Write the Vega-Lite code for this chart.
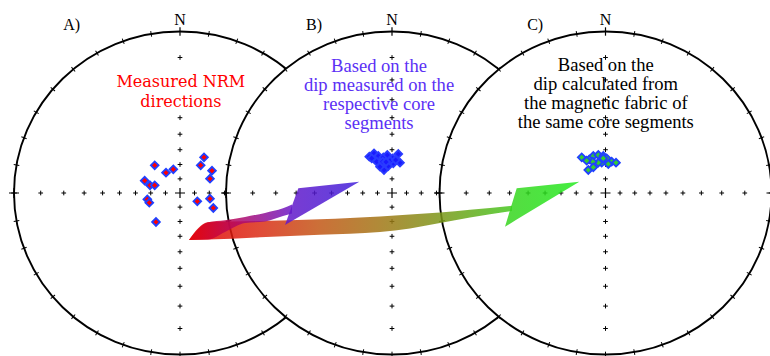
{
"$schema": "https://vega.github.io/schema/vega-lite/v6.json",
"width": 770, "height": 356, "autosize": "none", "padding": 0, "background": "white",
"config": {"view": {"stroke": null}},
"datasets": {
 "origin": [{"x": 0, "y": 0}],
 "rim": [
  {"az":0,"x":0,"y":1},{"az":10,"x":0.1736,"y":0.9848},{"az":20,"x":0.342,"y":0.9397},{"az":30,"x":0.5,"y":0.866},
  {"az":40,"x":0.6428,"y":0.766},{"az":50,"x":0.766,"y":0.6428},{"az":60,"x":0.866,"y":0.5},{"az":70,"x":0.9397,"y":0.342},
  {"az":80,"x":0.9848,"y":0.1736},{"az":90,"x":1,"y":0},{"az":100,"x":0.9848,"y":-0.1736},{"az":110,"x":0.9397,"y":-0.342},
  {"az":120,"x":0.866,"y":-0.5},{"az":130,"x":0.766,"y":-0.6428},{"az":140,"x":0.6428,"y":-0.766},{"az":150,"x":0.5,"y":-0.866},
  {"az":160,"x":0.342,"y":-0.9397},{"az":170,"x":0.1736,"y":-0.9848},{"az":180,"x":0,"y":-1},{"az":190,"x":-0.1736,"y":-0.9848},
  {"az":200,"x":-0.342,"y":-0.9397},{"az":210,"x":-0.5,"y":-0.866},{"az":220,"x":-0.6428,"y":-0.766},{"az":230,"x":-0.766,"y":-0.6428},
  {"az":240,"x":-0.866,"y":-0.5},{"az":250,"x":-0.9397,"y":-0.342},{"az":260,"x":-0.9848,"y":-0.1736},{"az":270,"x":-1,"y":0},
  {"az":280,"x":-0.9848,"y":0.1736},{"az":290,"x":-0.9397,"y":0.342},{"az":300,"x":-0.866,"y":0.5},{"az":310,"x":-0.766,"y":0.6428},
  {"az":320,"x":-0.6428,"y":0.766},{"az":330,"x":-0.5,"y":0.866},{"az":340,"x":-0.342,"y":0.9397},{"az":350,"x":-0.1736,"y":0.9848}
 ],
 "cross": [
  {"axis":"N","k":1,"x":0,"y":0.0875},{"axis":"N","k":2,"x":0,"y":0.1763},{"axis":"N","k":3,"x":0,"y":0.2679},{"axis":"N","k":4,"x":0,"y":0.364},
  {"axis":"N","k":5,"x":0,"y":0.4663},{"axis":"N","k":6,"x":0,"y":0.5774},{"axis":"N","k":7,"x":0,"y":0.7002},{"axis":"N","k":8,"x":0,"y":0.8391},
  {"axis":"S","k":1,"x":0,"y":-0.0875},{"axis":"S","k":2,"x":0,"y":-0.1763},{"axis":"S","k":3,"x":0,"y":-0.2679},{"axis":"S","k":4,"x":0,"y":-0.364},
  {"axis":"S","k":5,"x":0,"y":-0.4663},{"axis":"S","k":6,"x":0,"y":-0.5774},{"axis":"S","k":7,"x":0,"y":-0.7002},{"axis":"S","k":8,"x":0,"y":-0.8391},
  {"axis":"E","k":1,"x":0.0875,"y":0},{"axis":"E","k":2,"x":0.1763,"y":0},{"axis":"E","k":3,"x":0.2679,"y":0},{"axis":"E","k":4,"x":0.364,"y":0},
  {"axis":"E","k":5,"x":0.4663,"y":0},{"axis":"E","k":6,"x":0.5774,"y":0},{"axis":"E","k":7,"x":0.7002,"y":0},{"axis":"E","k":8,"x":0.8391,"y":0},
  {"axis":"W","k":1,"x":-0.0875,"y":0},{"axis":"W","k":2,"x":-0.1763,"y":0},{"axis":"W","k":3,"x":-0.2679,"y":0},{"axis":"W","k":4,"x":-0.364,"y":0},
  {"axis":"W","k":5,"x":-0.4663,"y":0},{"axis":"W","k":6,"x":-0.5774,"y":0},{"axis":"W","k":7,"x":-0.7002,"y":0},{"axis":"W","k":8,"x":-0.8391,"y":0}
 ],
 "bigcross": [{"x":0,"y":0},{"x":1,"y":0},{"x":-1,"y":0}],
 "nrmA": [
  {"x":0.1446,"y":0.2211},{"x":0.1247,"y":0.1715},{"x":0.1928,"y":0.1381},{"x":0.1807,"y":0.0885},
  {"x":-0.1524,"y":0.1715},{"x":-0.0843,"y":0.1257},{"x":-0.0404,"y":0.1467},{"x":-0.2127,"y":0.0762},
  {"x":-0.1807,"y":0.0477},{"x":-0.1524,"y":0.0477},{"x":-0.197,"y":-0.039},{"x":-0.1849,"y":-0.0601},
  {"x":0.1042,"y":-0.0514},{"x":0.1807,"y":-0.0353},{"x":0.2006,"y":-0.0929},{"x":-0.1446,"y":-0.1796}
 ],
 "nrmB": [
  {"x":-0.1367,"y":0.2248},{"x":-0.1084,"y":0.2458},{"x":-0.0825,"y":0.2291},{"x":-0.0524,"y":0.2211},
  {"x":-0.0283,"y":0.2353},{"x":0.0042,"y":0.2149},{"x":0.038,"y":0.2415},{"x":0.0482,"y":0.1876},
  {"x":0.0078,"y":0.1839},{"x":-0.0223,"y":0.1672},{"x":-0.0482,"y":0.1424},{"x":-0.0723,"y":0.1628},
  {"x":-0.0922,"y":0.1938},{"x":-0.1223,"y":0.2149},{"x":-0.056,"y":0.1938},{"x":-0.012,"y":0.2},
  {"x":0.0223,"y":0.2043},{"x":-0.0361,"y":0.192}
 ],
 "nrmC": [
  {"x":-0.1434,"y":0.2211},{"x":-0.0976,"y":0.2087},{"x":-0.0735,"y":0.2291},{"x":-0.0434,"y":0.2353},
  {"x":-0.0133,"y":0.2291},{"x":0.0072,"y":0.2149},{"x":0.0373,"y":0.1938},{"x":0.0633,"y":0.1876},
  {"x":0.0169,"y":0.1796},{"x":-0.0229,"y":0.1876},{"x":-0.0434,"y":0.1876},{"x":-0.0771,"y":0.1938},
  {"x":-0.1036,"y":0.1424},{"x":-0.0735,"y":0.1591},{"x":-0.0133,"y":0.2149},{"x":-0.1133,"y":0.2}
 ],
 "textA": [{"t":"A)","x":-0.6524,"y":1.0062},{"t":"N","x":0,"y":1.0402}],
 "textB": [{"t":"B)","x":-0.470,"y":1.0062},{"t":"N","x":0,"y":1.0402}],
 "textC": [{"t":"C)","x":-0.4235,"y":1.0062},{"t":"N","x":0,"y":1.0402}],
 "longBody": [
  {"x":0.0542,"y":-0.291,"yb":-0.291},{"x":0.1687,"y":-0.1814,"yb":-0.2885},{"x":0.4819,"y":-0.1734,"yb":-0.2743},
  {"x":0.8434,"y":-0.1628,"yb":-0.2588},{"x":1.0241,"y":-0.1548,"yb":-0.2526},{"x":1.2048,"y":-0.1455,"yb":-0.2415},
  {"x":1.3855,"y":-0.1331,"yb":-0.2198},{"x":1.5663,"y":-0.1207,"yb":-0.1858},{"x":1.747,"y":-0.1037,"yb":-0.1517},
  {"x":2.0,"y":-0.0793,"yb":-0.1115}
 ],
 "longHead": [{"x":1.9578,"y":-0.2087,"yb":-0.2087},{"x":2.0283,"y":0.0291,"yb":-0.1647},{"x":2.4054,"y":0.07,"yb":0.07}],
 "purpleBody": [
  {"x":0.0542,"y":-0.291,"yb":-0.291},{"x":0.1687,"y":-0.1814,"yb":-0.2885},{"x":0.2711,"y":-0.1684,"yb":-0.2415},
  {"x":0.3916,"y":-0.148,"yb":-0.1858},{"x":0.512,"y":-0.1232,"yb":-0.1765},{"x":0.6205,"y":-0.0947,"yb":-0.1424},
  {"x":0.6747,"y":-0.0712,"yb":-0.1269}
 ],
 "purpleHead": [{"x":0.6325,"y":-0.1981,"yb":-0.1981},{"x":0.7127,"y":0.0291,"yb":-0.1502},{"x":1.0801,"y":0.07,"yb":0.07}]
},
"resolve": {"scale": {"x": "independent"}},
"layer": [
 {
  "encoding": {
   "x": {"field":"x","type":"quantitative","scale":{"domain":[-1.08434,3.55422],"nice":false,"zero":false},"axis":null},
   "y": {"field":"y","type":"quantitative","scale":{"domain":[-1.00929,1.19505],"nice":false,"zero":false},"axis":null}
  },
  "layer": [
   {"data":{"name":"origin"},"mark":{"type":"point","shape":"M 1 0 C 1 0.5373 0.5523 0.9729 0 0.9729 C -0.5523 0.9729 -1 0.5373 -1 0 C -1 -0.5373 -0.5523 -0.9729 0 -0.9729 C 0.5523 -0.9729 1 -0.5373 1 0 Z","size":110224,"filled":true,"fill":"white","stroke":"black","strokeWidth":1.9,"opacity":1}},
   {"data":{"name":"rim"},"transform":[{"filter":"datum.az != 0"}],"mark":{"type":"point","shape":"M 0 -1 L 0 1","size":32,"filled":false,"stroke":"black","strokeWidth":1,"opacity":1},"encoding":{"angle":{"field":"az","type":"quantitative","scale":null}}},
   {"data":{"name":"rim"},"transform":[{"filter":"datum.az == 0"}],"mark":{"type":"point","shape":"M 0 -1 L 0 1","size":70,"filled":false,"stroke":"black","strokeWidth":1.2,"opacity":1}},
   {"data":{"name":"cross"},"transform":[{"filter":"!(datum.axis == 'N' && (datum.k == 6 || datum.k == 7))"}],"mark":{"type":"point","shape":"M -1 0 L 1 0 M 0 -1 L 0 1","size":22,"filled":false,"stroke":"black","strokeWidth":1,"opacity":1}},
   {"data":{"name":"bigcross"},"mark":{"type":"point","shape":"M -1 0 L 1 0 M 0 -1 L 0 1","size":100,"filled":false,"stroke":"black","strokeWidth":1.2,"opacity":1}},
   {"data":{"name":"nrmA"},"mark":{"type":"point","shape":"diamond","size":60,"filled":true,"fill":"#ff0000","stroke":"#2040ff","strokeWidth":1.8,"opacity":1}},
   {"data":{"name":"textA"},"mark":{"type":"text","font":"Liberation Serif","fontSize":16,"color":"black","align":"center","baseline":"alphabetic"},"encoding":{"text":{"field":"t","type":"nominal"}}},
   {"data":{"values":[{"t":"Measured NRM\ndirections","x":0.005,"y":0.6545}]},"mark":{"type":"text","font":"DejaVu Serif","fontSize":16,"color":"#ff0000","align":"center","baseline":"alphabetic","lineBreak":"\n","lineHeight":20},"encoding":{"text":{"field":"t","type":"nominal"}}}
  ]
 },
 {
  "encoding": {
   "x": {"field":"x","type":"quantitative","scale":{"domain":[-2.36145,2.27711],"nice":false,"zero":false},"axis":null},
   "y": {"field":"y","type":"quantitative","scale":{"domain":[-1.00929,1.19505],"nice":false,"zero":false},"axis":null}
  },
  "layer": [
   {"data":{"name":"origin"},"mark":{"type":"point","shape":"M 1 0 C 1 0.5373 0.5523 0.9729 0 0.9729 C -0.5523 0.9729 -1 0.5373 -1 0 C -1 -0.5373 -0.5523 -0.9729 0 -0.9729 C 0.5523 -0.9729 1 -0.5373 1 0 Z","size":110224,"filled":true,"fill":"white","stroke":"black","strokeWidth":1.9,"opacity":1}},
   {"data":{"name":"rim"},"transform":[{"filter":"datum.az != 0"}],"mark":{"type":"point","shape":"M 0 -1 L 0 1","size":32,"filled":false,"stroke":"black","strokeWidth":1,"opacity":1},"encoding":{"angle":{"field":"az","type":"quantitative","scale":null}}},
   {"data":{"name":"rim"},"transform":[{"filter":"datum.az == 0"}],"mark":{"type":"point","shape":"M 0 -1 L 0 1","size":70,"filled":false,"stroke":"black","strokeWidth":1.2,"opacity":1}},
   {"data":{"name":"cross"},"mark":{"type":"point","shape":"M -1 0 L 1 0 M 0 -1 L 0 1","size":22,"filled":false,"stroke":"black","strokeWidth":1,"opacity":1}},
   {"data":{"name":"bigcross"},"mark":{"type":"point","shape":"M -1 0 L 1 0 M 0 -1 L 0 1","size":100,"filled":false,"stroke":"black","strokeWidth":1.2,"opacity":1}},
   {"data":{"name":"nrmB"},"mark":{"type":"point","shape":"diamond","size":60,"filled":true,"fill":"#1a1aff","stroke":"#2a3cff","strokeWidth":1.8,"opacity":1}},
   {"data":{"name":"textB"},"mark":{"type":"text","font":"Liberation Serif","fontSize":16,"color":"black","align":"center","baseline":"alphabetic"},"encoding":{"text":{"field":"t","type":"nominal"}}},
   {"data":{"values":[{"t":"Based on the\ndip measured on the\nrespective core\nsegments","x":-0.0783,"y":0.7511}]},"mark":{"type":"text","font":"Liberation Serif","fontSize":18.6,"color":"#5b30f5","align":"center","baseline":"alphabetic","lineBreak":"\n","lineHeight":19},"encoding":{"text":{"field":"t","type":"nominal"}}}
  ]
 },
 {
  "encoding": {
   "x": {"field":"x","type":"quantitative","scale":{"domain":[-3.64759,0.99096],"nice":false,"zero":false},"axis":null},
   "y": {"field":"y","type":"quantitative","scale":{"domain":[-1.00929,1.19505],"nice":false,"zero":false},"axis":null}
  },
  "layer": [
   {"data":{"name":"origin"},"mark":{"type":"point","shape":"M 1 0 C 1 0.5373 0.5523 0.9729 0 0.9729 C -0.5523 0.9729 -1 0.5373 -1 0 C -1 -0.5373 -0.5523 -0.9729 0 -0.9729 C 0.5523 -0.9729 1 -0.5373 1 0 Z","size":110224,"filled":true,"fill":"white","stroke":"black","strokeWidth":1.9,"opacity":1}},
   {"data":{"name":"rim"},"transform":[{"filter":"datum.az != 0"}],"mark":{"type":"point","shape":"M 0 -1 L 0 1","size":32,"filled":false,"stroke":"black","strokeWidth":1,"opacity":1},"encoding":{"angle":{"field":"az","type":"quantitative","scale":null}}},
   {"data":{"name":"rim"},"transform":[{"filter":"datum.az == 0"}],"mark":{"type":"point","shape":"M 0 -1 L 0 1","size":70,"filled":false,"stroke":"black","strokeWidth":1.2,"opacity":1}},
   {"data":{"name":"cross"},"mark":{"type":"point","shape":"M -1 0 L 1 0 M 0 -1 L 0 1","size":22,"filled":false,"stroke":"black","strokeWidth":1,"opacity":1}},
   {"data":{"name":"bigcross"},"mark":{"type":"point","shape":"M -1 0 L 1 0 M 0 -1 L 0 1","size":100,"filled":false,"stroke":"black","strokeWidth":1.2,"opacity":1}},
   {"data":{"name":"nrmC"},"mark":{"type":"point","shape":"diamond","size":60,"filled":true,"fill":"#33cc33","stroke":"#2040ff","strokeWidth":1.8,"opacity":1}},
   {"data":{"name":"textC"},"mark":{"type":"text","font":"Liberation Serif","fontSize":16,"color":"black","align":"center","baseline":"alphabetic"},"encoding":{"text":{"field":"t","type":"nominal"}}},
   {"data":{"values":[{"t":"Based on the\ndip calculated from\nthe magnetic fabric of\nthe same core segments","x":0.0018,"y":0.7573}]},"mark":{"type":"text","font":"Liberation Serif","fontSize":18.6,"color":"black","align":"center","baseline":"alphabetic","lineBreak":"\n","lineHeight":19},"encoding":{"text":{"field":"t","type":"nominal"}}}
  ]
 },
 {
  "encoding": {
   "x": {"field":"x","type":"quantitative","scale":{"domain":[-1.08434,3.55422],"nice":false,"zero":false},"axis":null},
   "y": {"field":"y","type":"quantitative","scale":{"domain":[-1.00929,1.19505],"nice":false,"zero":false},"axis":null},
   "y2": {"field":"yb"}
  },
  "layer": [
   {"data":{"name":"longBody"},"mark":{"type":"area","interpolate":"monotone","opacity":0.85,"fill":{"gradient":"linear","x1":0,"y1":0,"x2":1,"y2":0,"stops":[{"offset":0,"color":"#e40005"},{"offset":0.22,"color":"#db2c15"},{"offset":0.4,"color":"#c35615"},{"offset":0.59,"color":"#a27615"},{"offset":0.77,"color":"#7d9518"},{"offset":1,"color":"#44c81f"}]}}},
   {"data":{"name":"longHead"},"mark":{"type":"area","opacity":0.85,"fill":{"gradient":"linear","x1":0,"y1":0,"x2":1,"y2":0,"stops":[{"offset":0,"color":"#38d41f"},{"offset":1,"color":"#23eb1f"}]}}},
   {"data":{"name":"purpleBody"},"mark":{"type":"area","interpolate":"monotone","opacity":0.85,"fill":{"gradient":"linear","x1":0,"y1":0,"x2":1,"y2":0,"stops":[{"offset":0,"color":"#e40005"},{"offset":0.5,"color":"#b0086a"},{"offset":1,"color":"#6a18c8"}]}}},
   {"data":{"name":"purpleHead"},"mark":{"type":"area","opacity":0.85,"fill":{"gradient":"linear","x1":0,"y1":0,"x2":1,"y2":0,"stops":[{"offset":0,"color":"#6418c8"},{"offset":1,"color":"#401fdb"}]}}}
  ]
 }
]
}
